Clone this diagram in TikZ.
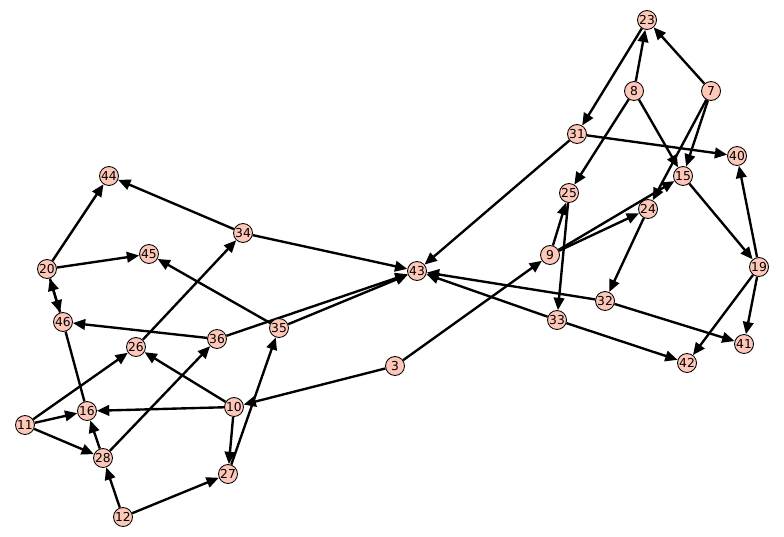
\documentclass[tikz,border=0pt]{standalone}
\usepackage{fontspec}
\setsansfont{DejaVu Sans}
\usetikzlibrary{arrows.meta,backgrounds}
\definecolor{vfill}{HTML}{FEC7B8}
\tikzset{
  vtx/.style={circle,draw=black,fill=vfill,line width=0.5pt,minimum size=0.38cm,inner sep=0pt,font=\sffamily\fontsize{7}{7}\selectfont},
  arr/.style={-{Triangle[length=7pt,width=6pt]},line width=1.35pt,draw=black},
  ln/.style={line width=1.35pt,draw=black},
}

\begin{document}
\begin{tikzpicture}[x=0.02cm,y=-0.02cm]
  \useasboundingbox (0,0) rectangle (784,537);
  % right group
  \node[vtx] (n23) at (647,20) {23};
  \node[vtx] (n8) at (634,91) {8};
  \node[vtx] (n7) at (711,91) {7};
  \node[vtx] (n31) at (577,134) {31};
  \node[vtx] (n40) at (737,156) {40};
  \node[vtx] (n15) at (683,176) {15};
  \node[vtx] (n25) at (569,193) {25};
  \node[vtx] (n24) at (648,209) {24};
  \node[vtx] (n9) at (550,255) {9};
  \node[vtx] (n19) at (759,267) {19};
  \node[vtx] (n32) at (605,301) {32};
  \node[vtx] (n33) at (557,320) {33};
  \node[vtx] (n41) at (744,344) {41};
  \node[vtx] (n42) at (687,363) {42};
  \node[vtx] (n43) at (417,271) {43};
  \node[vtx] (n3) at (395,366) {3};
  % left group
  \node[vtx] (n44) at (109,176) {44};
  \node[vtx] (n34) at (243,233) {34};
  \node[vtx] (n45) at (149,254) {45};
  \node[vtx] (n20) at (47,269) {20};
  \node[vtx] (n46) at (63,322) {46};
  \node[vtx] (n35) at (279,328) {35};
  \node[vtx] (n36) at (217,339) {36};
  \node[vtx] (n26) at (136,347) {26};
  \node[vtx] (n10) at (234,407) {10};
  \node[vtx] (n16) at (87,411) {16};
  \node[vtx] (n11) at (25,425) {11};
  \node[vtx] (n28) at (103,458) {28};
  \node[vtx] (n27) at (228,474) {27};
  \node[vtx] (n12) at (123,517) {12};
  \begin{scope}[on background layer]
    \draw[arr] (n8)--(n23); \draw[arr] (n7)--(n23); \draw[arr] (n23)--(n31);
    \draw[arr] (n8)--(n25); \draw[arr] (n8)--(n15); \draw[arr] (n7)--(n15); \draw[arr] (n7)--(n24);
    \draw[arr] (n31)--(n40); \draw[arr] (n31)--(n43);
    \draw[arr] (n9)--(n25); \draw[arr] (n9)--(n24); \draw[arr] (n9)--(n15); \draw[arr] (n25)--(n33);
    \draw[arr] (n24)--(n32); \draw[arr] (n15)--(n19);
    \draw[arr] (n19)--(n40); \draw[arr] (n19)--(n41); \draw[arr] (n19)--(n42);
    \draw[arr] (n32)--(n41); \draw[arr] (n32)--(n43); \draw[arr] (n33)--(n43); \draw[arr] (n33)--(n42);
    \draw[arr] (n3)--(n9); \draw[arr] (n3)--(n10);
    \draw[arr] (n34)--(n44); \draw[arr] (n34)--(n43);
    \draw[arr] (n20)--(n44); \draw[arr] (n20)--(n45); \draw[arr] (n20)--(n46); \draw[arr] (n46)--(n20);
    \draw[ln] (n46)--(n16);
    \draw[arr] (n35)--(n45); \draw[arr] (n36)--(n46); \draw[arr] (n36)--(n43); \draw[arr] (n35)--(n43);
    \draw[arr] (n26)--(n34);
    \draw[arr] (n11)--(n26); \draw[arr] (n11)--(n16); \draw[arr] (n11)--(n28);
    \draw[arr] (n10)--(n26); \draw[arr] (n10)--(n16); \draw[arr] (n10)--(n27); \draw[arr] (n27)--(n35);
    \draw[arr] (n28)--(n16); \draw[arr] (n28)--(n36);
    \draw[arr] (n12)--(n28); \draw[arr] (n12)--(n27);
  \end{scope}
\end{tikzpicture}
\end{document}
